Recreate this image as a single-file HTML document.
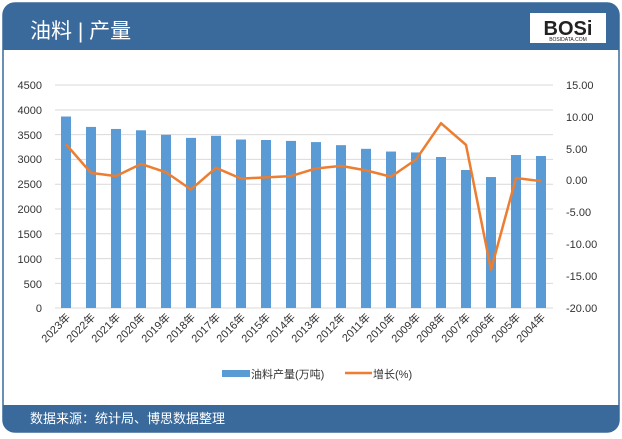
<!DOCTYPE html>
<html><head><meta charset="utf-8"><style>
body{margin:0;width:622px;height:434px;background:#fff;overflow:hidden;font-family:"Liberation Sans","Noto Sans CJK SC",sans-serif}
</style></head><body>
<svg width="622" height="434" xmlns="http://www.w3.org/2000/svg" font-family="Liberation Sans, Noto Sans CJK SC, sans-serif">
<rect x="3" y="3" width="616" height="429" rx="12" fill="#fff" stroke="#3a6a9c" stroke-width="1.5"/>
<path d="M3 15 Q3 3 15 3 H607 Q619 3 619 15 V50 H3 Z" fill="#3a6a9c"/>
<text x="30" y="38" font-size="21" fill="#fff">油料 | 产量</text>
<rect x="530" y="13" width="76" height="30" fill="#fff"/>
<text x="568" y="35" font-size="20" font-weight="bold" text-anchor="middle" fill="#222">BOSi</text>
<text x="568" y="41" font-size="5" text-anchor="middle" fill="#222">BOSIDATA.COM</text>
<path d="M3 405 H619 V420 Q619 432 607 432 H15 Q3 432 3 420 Z" fill="#3a6a9c"/>
<text x="30" y="423" font-size="13" fill="#fff">数据来源：统计局、博思数据整理</text>
<g stroke="#d9d9d9" stroke-width="1">
<line x1="55" x2="553" y1="85" y2="85"/><line x1="55" x2="553" y1="110" y2="110"/><line x1="55" x2="553" y1="134.6" y2="134.6"/><line x1="55" x2="553" y1="159.4" y2="159.4"/><line x1="55" x2="553" y1="184.2" y2="184.2"/><line x1="55" x2="553" y1="209" y2="209"/><line x1="55" x2="553" y1="233.8" y2="233.8"/><line x1="55" x2="553" y1="258.6" y2="258.6"/><line x1="55" x2="553" y1="283.4" y2="283.4"/><line x1="55" x2="553" y1="308" y2="308"/>
</g>
<g font-size="11" fill="#333" text-anchor="end">
<text x="42" y="89">4500</text><text x="42" y="114">4000</text><text x="42" y="139">3500</text><text x="42" y="163">3000</text><text x="42" y="188">2500</text><text x="42" y="213">2000</text><text x="42" y="238">1500</text><text x="42" y="263">1000</text><text x="42" y="288">500</text><text x="42" y="312">0</text>
</g>
<g font-size="11" fill="#333" text-anchor="start">
<text x="566" y="89">15.00</text><text x="566" y="121">10.00</text><text x="566" y="153">5.00</text><text x="566" y="184">0.00</text><text x="566" y="216">-5.00</text><text x="566" y="248">-10.00</text><text x="566" y="280">-15.00</text><text x="566" y="312">-20.00</text>
</g>
<g fill="#5b9bd5" id="bars"></g>
<polyline id="ln" fill="none" stroke="#ed7d31" stroke-width="2.5" stroke-linejoin="round"/>
<g id="xl" font-size="11" fill="#333"></g>
<rect x="222" y="370" width="28" height="7" fill="#5b9bd5"/>
<text x="251" y="378" font-size="11" fill="#333">油料产量(万吨)</text>
<line x1="345" x2="372" y1="373" y2="373" stroke="#ed7d31" stroke-width="2.5"/>
<text x="373" y="378" font-size="11" fill="#333">增长(%)</text>
</svg>
<script>
var b=[3864,3654,3613,3586,3495,3433,3475,3400,3390,3372,3348,3286,3212,3157,3139,3047,2785,2643,3087,3067];
var g=[5.7,1.2,0.7,2.6,1.3,-1.4,2.0,0.3,0.5,0.7,1.9,2.3,1.6,0.6,3.3,9.0,5.6,-14.0,0.4,-0.1];
var ns="http://www.w3.org/2000/svg",bars=document.getElementById('bars'),xl=document.getElementById('xl'),pts=[];
for(var i=0;i<20;i++){var cx=66+i*25;var h=b[i]/4500*223;
var r=document.createElementNS(ns,'rect');r.setAttribute('x',cx-5);r.setAttribute('y',308-h);r.setAttribute('width',10);r.setAttribute('height',h);bars.appendChild(r);
pts.push(cx+','+(85+(15-g[i])*6.37));
var t=document.createElementNS(ns,'text');t.setAttribute('transform','translate('+(cx+5)+',318) rotate(-45)');t.setAttribute('text-anchor','end');t.textContent=(2023-i)+'年';xl.appendChild(t);}
document.getElementById('ln').setAttribute('points',pts.join(' '));
</script>
</body></html>
